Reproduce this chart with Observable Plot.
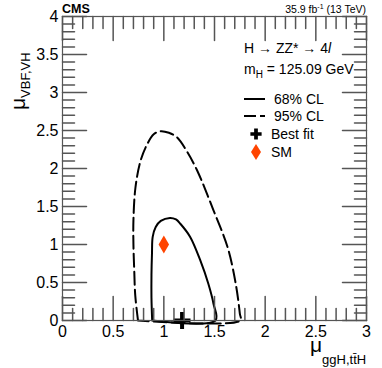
<!DOCTYPE html>
<html><head><meta charset="utf-8">
<script src="https://cdn.jsdelivr.net/npm/d3@7"></script>
<script src="https://cdn.jsdelivr.net/npm/@observablehq/plot@0.6"></script>
<style>
body{margin:0;background:#fff;}
#chart svg{font-family:"Liberation Sans",Arial,sans-serif;}
</style>
</head><body><div id="chart"></div>
<script>
// 68% CL contour (mu_ggH, mu_VBF)
const cl68X = [0.885,0.878,0.878,0.883,0.89,0.92,0.97,1.06,1.12,1.165,1.26,1.36,1.44,1.49,1.51,0.885];
const cl68Y = [0,0.3,0.6,0.88,1.10,1.23,1.31,1.35,1.33,1.27,1.10,0.79,0.48,0.22,0,0];
// 95% CL contour
const cl95X = [0.745,0.718,0.708,0.70,0.70,0.72,0.77,0.836,0.90,0.967,1.05,1.13,1.23,1.33,1.49,1.63,1.71,1.75,1.755,0.745];
const cl95Y = [0,0.33,0.66,1.0,1.32,1.75,2.1,2.32,2.45,2.49,2.47,2.41,2.22,1.97,1.45,0.96,0.48,0.09,0,0];
const bestFit = {x: 1.18, y: 0.0};
const sm = {x: 1.0, y: 1.0};
const xMajor = [0,0.5,1,1.5,2,2.5,3];
const xMajorLabels = ["0","0.5","1","1.5","2","2.5","3"];
const yMajor = [0,0.5,1,1.5,2,2.5,3,3.5,4];
const yMajorLabels = ["0","0.5","1","1.5","2","2.5","3","3.5","4"];
const xMinor = d3.range(0,31).map(i=>i/10);
const yMinor = d3.range(0,41).map(i=>i/10);

const c68 = cl68X.map((x,i)=>({x, y: cl68Y[i]}));
const c95 = cl95X.map((x,i)=>({x, y: cl95Y[i]}));

const tickShape = {draw(ctx, l){ ctx.moveTo(0,0); ctx.lineTo(0,-l); }};
const axisColor = "#555";
const isMajor = (arr) => d => arr.includes(Math.round(d*10)/10) ? 9 : 4.5;

const plot = Plot.plot({
  width: 382, height: 368,
  marginLeft: 62, marginRight: 16, marginTop: 16, marginBottom: 48,
  x: {domain: [0,3], axis: null},
  y: {domain: [0,4], axis: null},
  style: {fontFamily: "Liberation Sans, Arial, sans-serif", background: "white"},
  marks: [
    Plot.line(c95, {x:"x", y:"y", curve:"catmull-rom", stroke:"black", strokeWidth:2, strokeDasharray:"13,5"}),
    Plot.line(c68, {x:"x", y:"y", curve:"catmull-rom", stroke:"black", strokeWidth:2}),
    Plot.dot([sm], {x:"x", y:"y", symbol:"diamond", r:5.5, fill:"#ff4400", stroke:"none"}),
    Plot.dot([bestFit], {x:"x", y:"y", symbol:"plus", r:5.5, stroke:"black", strokeWidth:4}),
    // ticks (inward, ROOT style)
    Plot.vector(xMinor, {x:d=>d, frameAnchor:"bottom", length: isMajor(xMajor), rotate:0, anchor:"start", shape:tickShape, stroke:axisColor}),
    Plot.vector(xMinor, {x:d=>d, frameAnchor:"top", length: isMajor(xMajor), rotate:180, anchor:"start", shape:tickShape, stroke:axisColor}),
    Plot.vector(yMinor, {y:d=>d, frameAnchor:"left", length: isMajor(yMajor), rotate:90, anchor:"start", shape:tickShape, stroke:axisColor}),
    Plot.vector(yMinor, {y:d=>d, frameAnchor:"right", length: isMajor(yMajor), rotate:-90, anchor:"start", shape:tickShape, stroke:axisColor}),
    Plot.frame({stroke: axisColor, strokeWidth: 1.2}),
    Plot.text(xMajor, {x:d=>d, frameAnchor:"bottom", text:(d,i)=>xMajorLabels[i], dy:16, fontSize:16, fill:"black"}),
    Plot.text(yMajor, {y:d=>d, frameAnchor:"left", text:(d,i)=>yMajorLabels[i], dx:-4, textAnchor:"end", fontSize:16, fill:"black"})
  ]
});
document.getElementById("chart").appendChild(plot);

const svg = d3.select(plot);
const L = 62, R = 366;
function addText(x, y, parts, opts={}) {
  const t = svg.append("text").attr("x", x).attr("y", y)
    .attr("font-size", opts.size || 14).attr("fill", "black")
    .attr("text-anchor", opts.anchor || "start")
    .attr("font-weight", opts.weight || "normal");
  if (opts.transform) t.attr("transform", opts.transform);
  parts.forEach(p => {
    const s = t.append("tspan").text(p.t);
    if (p.size) s.attr("font-size", p.size);
    if (p.dy) s.attr("dy", p.dy);
    if (p.dx) s.attr("dx", p.dx);
    if (p.italic) s.attr("font-style", "italic");
  });
  return t;
}
// Header
addText(L, 13, [{t:"CMS"}], {size:12.5, weight:"bold"});
addText(R, 13, [{t:"35.9 fb"},{t:"-1", size:7, dy:-4},{t:" (13 TeV)", dy:4}], {size:10.5, anchor:"end"});
// Legend block
addText(244, 53, [{t:"H \u2192 ZZ* \u2192 4"},{t:"l", italic:true}], {size:14});
addText(244, 74, [{t:"m"},{t:"H", size:10, dy:4},{t:" = 125.09 GeV", dy:-4}], {size:14});
const legY = [99, 116, 134, 152];
svg.append("line").attr("x1",244).attr("x2",265).attr("y1",legY[0]).attr("y2",legY[0]).attr("stroke","black").attr("stroke-width",2);
svg.append("line").attr("x1",244).attr("x2",265).attr("y1",legY[1]).attr("y2",legY[1]).attr("stroke","black").attr("stroke-width",2).attr("stroke-dasharray","12,4");
svg.append("path").attr("d", d3.symbol(d3.symbolCross, 70)()).attr("transform", `translate(256,${legY[2]})`).attr("fill","black");
svg.append("path").attr("d", "M0,-8L5,0L0,8L-5,0Z").attr("transform", `translate(256,${legY[3]})`).attr("fill","#ff4400");
addText(274, legY[0]+5, [{t:"68% CL"}], {size:14});
addText(274, legY[1]+5, [{t:"95% CL"}], {size:14});
addText(271, legY[2]+5, [{t:"Best fit"}], {size:14});
addText(271, legY[3]+5, [{t:"SM"}], {size:14});
// Axis titles
addText(310, 352, [{t:"\u03bc", size:21},{t:"ggH,tt\u0304H", size:13, dy:12, dx:0}], {});
addText(0, 0, [{t:"\u03bc", size:21},{t:"VBF,VH", size:13, dy:5}], {transform:"translate(25,110) rotate(-90)", anchor:"start"});
</script>
</body></html>
